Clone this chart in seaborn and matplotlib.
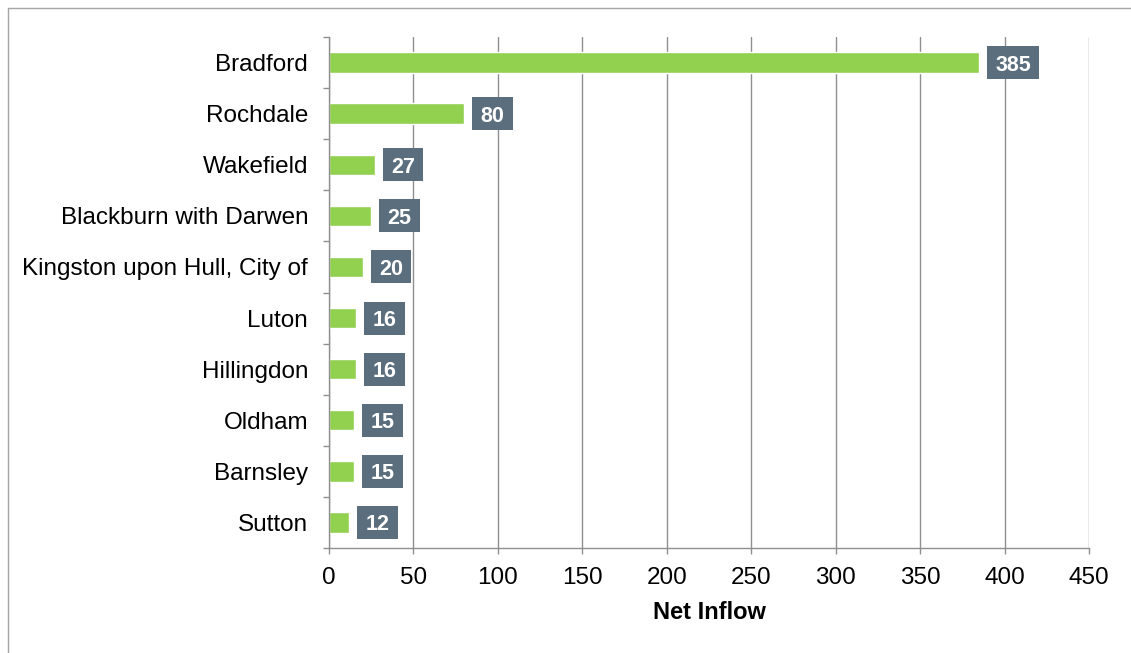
import matplotlib
matplotlib.use("Agg")
import matplotlib.pyplot as plt
from matplotlib.lines import Line2D
from matplotlib.patches import Rectangle
from matplotlib.ticker import FixedLocator, MultipleLocator
import seaborn as sns
import pandas as pd

# Net inflow by local authority
areas = ["Bradford", "Rochdale", "Wakefield", "Blackburn with Darwen",
         "Kingston upon Hull, City of", "Luton", "Hillingdon", "Oldham",
         "Barnsley", "Sutton"]
net_inflow = [385, 80, 27, 25, 20, 16, 16, 15, 15, 12]
x_ticks = [0, 50, 100, 150, 200, 250, 300, 350, 400, 450]

BAR_GREEN = "#92D050"
LABEL_BOX = "#5B6E7D"
GRID_GREY = "#8F8F8F"

sns.set_theme(style="white")
plt.rcParams["font.family"] = ["Liberation Sans", "DejaVu Sans"]

df = pd.DataFrame({"area": areas, "inflow": net_inflow})

W, H = 1131, 653
fig = plt.figure(figsize=(W / 100, H / 100), dpi=100)
ax_left, ax_right, ax_top, ax_bottom = 329, 1089, 37, 548
ax = fig.add_axes([ax_left / W, 1 - ax_bottom / H,
                   (ax_right - ax_left) / W, (ax_bottom - ax_top) / H])

sns.barplot(data=df, y="area", x="inflow", orient="h", color=BAR_GREEN,
            saturation=1, width=0.4, ax=ax)

xmax = 450
ax.set_xlim(0, xmax)
ax.set_ylim(len(areas) - 0.5, -0.5)
ax.xaxis.set_major_locator(FixedLocator(x_ticks))
ax.set_xticklabels([str(t) for t in x_ticks])

# Vertical gridlines
ax.grid(axis="x", color=GRID_GREY, linewidth=1.0)
ax.grid(axis="y", visible=False)
ax.set_axisbelow(True)

for side in ("top", "right"):
    ax.spines[side].set_visible(False)
for side in ("left", "bottom"):
    ax.spines[side].set_color(GRID_GREY)
    ax.spines[side].set_linewidth(1.0)

# Category-boundary tick marks on the y axis
ax.yaxis.set_minor_locator(MultipleLocator(1, offset=0.5))
ax.tick_params(axis="y", which="major", length=0, pad=15, labelsize=17.5,
               labelcolor="black")
ax.tick_params(axis="y", which="minor", left=True, length=4, width=1.0,
               color=GRID_GREY)
ax.tick_params(axis="x", which="major", bottom=True, length=4, width=1.0,
               color=GRID_GREY, pad=10, labelsize=17.5, labelcolor="black")

ax.set_ylabel("")
ax.set_xlabel("Net Inflow", fontsize=17, fontweight="bold", labelpad=8,
              color="black")

# Value labels in boxes beside each bar (box sizes in pixels)
px_per_x = (ax_right - ax_left) / xmax
px_per_y = (ax_bottom - ax_top) / len(areas)
gap_px, box_h_px = 8, 33
for i, v in enumerate(net_inflow):
    label = str(v)
    box_w_px = 18 + 11.3 * len(label)
    x0 = v + gap_px / px_per_x
    bw = box_w_px / px_per_x
    bh = box_h_px / px_per_y
    ax.add_patch(Rectangle((x0, i - bh / 2), bw, bh, facecolor=LABEL_BOX,
                           edgecolor="none", zorder=3, clip_on=False))
    ax.text(x0 + bw / 2, i, label, ha="center", va="center_baseline",
            fontsize=15.5, fontweight="bold", color="white", zorder=4)

# Outer frame
frame_kw = dict(color="#A6A6A6", linewidth=1.0, transform=fig.transFigure)
fig.add_artist(Line2D([8 / W, 8 / W], [0, 1 - 8 / H], **frame_kw))
fig.add_artist(Line2D([8 / W, 1], [1 - 8 / H, 1 - 8 / H], **frame_kw))

fig.savefig("out.png", dpi=100)
